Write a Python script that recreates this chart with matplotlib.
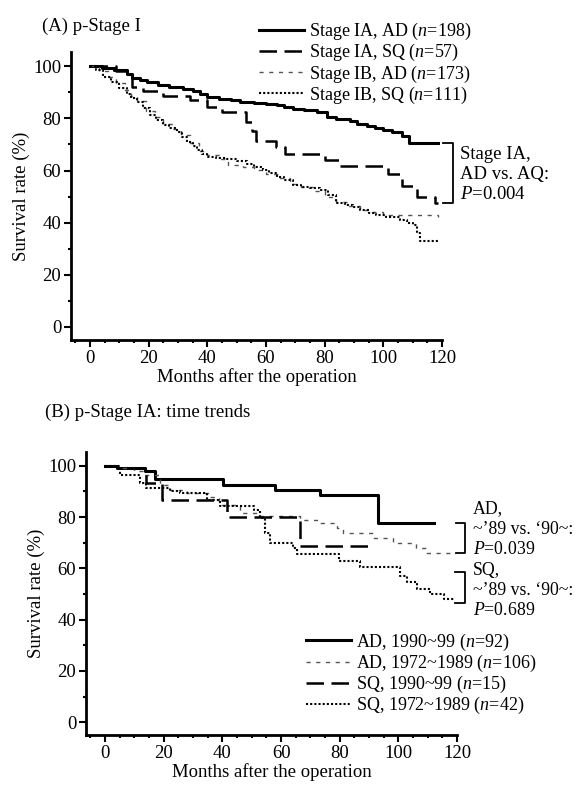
import matplotlib.pyplot as plt
from matplotlib.ticker import MultipleLocator

plt.rcParams['font.family'] = ['Liberation Serif', 'DejaVu Serif']
plt.rcParams['mathtext.fontset'] = 'custom'
plt.rcParams['mathtext.rm'] = 'Liberation Serif'
plt.rcParams['mathtext.it'] = 'Liberation Serif:italic'
plt.rcParams['font.size'] = 13

# ---- panel A: p-Stage I ----
ia_ad_t = [0, 4, 8, 12.5, 14.3, 17, 19.3, 23, 27, 31.8, 35, 37.5, 39.8, 44, 48, 51.2, 56, 60, 63.7, 66,
           69.3, 73, 77.3, 80.7, 84, 88.6, 91, 94.3, 97, 100, 103, 106.3, 108.6, 118.5]
ia_ad_s = [100, 99.5, 98.5, 97.2, 95.5, 94.6, 93.8, 93, 92, 91.2, 90.4, 89.5, 88.2, 87.6, 86.9, 86.3, 85.9,
           85.4, 85, 84.4, 83.7, 83.1, 82.4, 80.6, 79.9, 78.9, 78, 76.9, 76.2, 75.4, 74.6, 73.4, 70.6, 70.6]

ia_sq_t = [0, 9, 14.3, 18.2, 25, 34, 39.8, 45, 53, 55.2, 56.5, 63.5, 66.5, 80, 85, 101.5, 106.5, 111.5,
           117.5, 118.5]
ia_sq_s = [100, 98.2, 92.2, 90.4, 88.6, 86.9, 84.2, 82.4, 78.8, 75.3, 71.5, 69.2, 66.5, 64.2, 61.6, 58.5,
           54.1, 49.7, 47.4, 47.4]

ib_ad_t = [0, 3, 6, 9, 12, 14, 16, 19, 22, 25, 28, 31, 34, 37, 40, 44, 47, 52, 56, 60, 64, 68, 72, 76, 80,
           84, 88, 92, 96, 100, 118.5]
ib_ad_s = [100, 98, 96, 93.5, 91, 88.5, 86.5, 83, 80.5, 78, 76, 73.5, 70.5, 67.5, 65.8, 64.5, 62.3, 61.5,
           60.2, 58.5, 57, 55, 53.5, 52, 50, 48, 46.5, 45, 44, 43, 42.3]

ib_sq_t = [0, 2, 4.4, 7, 10, 12.5, 14, 16, 18, 20.5, 22.5, 25, 27, 29.6, 31.5, 33, 35, 36.4, 38, 39.8, 43,
           46.6, 50, 53.4, 56, 59, 61, 63.7, 66, 69.3, 72, 75, 78.4, 81, 84, 87, 89.8, 92, 95, 97.6, 101,
           105.6, 108, 110, 111.5, 112.5, 118.5]
ib_sq_s = [100, 98.5, 96, 94, 91.5, 89.5, 88, 86.3, 84, 81.2, 79.5, 77.4, 76.3, 74.8, 73, 71, 69.5, 67.8,
           66.5, 65.3, 65, 64.6, 63.6, 62.7, 61.5, 60.2, 59, 57.6, 56.2, 54.4, 53.8, 53.2, 52.5, 50.5, 47.4,
           46.8, 46.1, 45, 43.8, 42.9, 42, 41, 40, 39, 36, 32.8, 32.8]

labels_a = ['Stage IA, AD ($n$=198)', 'Stage IA, SQ ($n$=57)',
            'Stage IB, AD ($n$=173)', 'Stage IB, SQ ($n$=111)']

# ---- panel B: p-Stage IA time trends ----
ad90_t = [0, 4, 13.6, 17, 40.3, 58, 73.3, 93.2, 112]
ad90_s = [100, 99, 97.8, 94.8, 92.6, 90.6, 88.7, 77.6, 77.6]

ad72_t = [0, 5, 10, 13, 18.8, 22, 28, 35, 39, 46, 52, 66.5, 73.3, 79, 81, 91.5, 98.3, 106, 109.5, 118.8]
ad72_s = [100, 99, 98, 96.5, 92.6, 90.5, 89.5, 88, 84.9, 81.6, 80.3, 79, 77.6, 75.6, 73.7, 71.8, 69.8,
          67.9, 65.9, 65.9]

sq90_t = [0, 4, 14, 19.3, 41.5, 66.5, 91]
sq90_s = [100, 99, 93.3, 86.7, 80, 68.6, 68.6]

sq72_t = [0, 5, 11.9, 14, 22, 25.6, 34.7, 39.2, 50.6, 52.8, 54.6, 56.3, 64.2, 65.4, 79.6, 86.9, 100.6,
          102.9, 106.3, 110.9, 115.5, 118.8]
sq72_s = [100, 96.5, 93.2, 91.3, 90, 89.4, 86.8, 84.2, 82.9, 79.7, 73.9, 70, 68.1, 65.5, 63, 60.4, 57.2,
          54.7, 52, 50.1, 48.2, 48.2]

labels_b = ['AD, 1990~99 ($n$=92)', 'AD, 1972~1989 ($n$=106)',
            'SQ, 1990~99 ($n$=15)', 'SQ, 1972~1989 ($n$=42)']

solid = dict(color='black', lw=2.2, linestyle='-')
longdash = dict(color='black', lw=1.8, dashes=(7, 3))
shortdash = dict(color='#555555', lw=1.0, dashes=(3, 4))
dotted = dict(color='black', lw=1.5, dashes=(1, 1))


def style_axes(ax):
    for sp in ['top', 'right']:
        ax.spines[sp].set_visible(False)
    for sp in ['left', 'bottom']:
        ax.spines[sp].set_linewidth(2)
    ax.set_xlim(-6.5, 120)
    ax.set_ylim(-5, 105.5)
    ax.xaxis.set_major_locator(MultipleLocator(20))
    ax.xaxis.set_minor_locator(MultipleLocator(5))
    ax.yaxis.set_major_locator(MultipleLocator(20))
    ax.yaxis.set_minor_locator(MultipleLocator(10))
    ax.tick_params(which='major', length=5, width=1.5, labelsize=13.5, pad=2)
    ax.tick_params(which='minor', length=2.5, width=1.5)
    ax.set_xlabel('Months after the operation', fontsize=13.5, labelpad=1)
    ax.set_ylabel('Survival rate (%)', fontsize=13.5, labelpad=2)


def bracket(ax, x, y1, y2, w):
    ax.plot([x - w, x, x, x - w], [y1, y1, y2, y2], color='black', lw=1.3, clip_on=False)


fig = plt.figure(figsize=(5.78, 7.87), dpi=100)

# panel A
ax1 = fig.add_axes([0.1228, 0.568, 0.642, 0.366])
h1 = ax1.step(ia_ad_t, ia_ad_s, where='post', **solid)[0]
h2 = ax1.step(ia_sq_t, ia_sq_s, where='post', **longdash)[0]
h3 = ax1.step(ib_ad_t, ib_ad_s, where='post', **shortdash)[0]
h4 = ax1.step(ib_sq_t, ib_sq_s, where='post', **dotted)[0]
style_axes(ax1)
fig.text(0.073, 0.967, '(A) p-Stage I', fontsize=13.5, va='center')
fig.legend([h1, h2, h3, h4], labels_a, loc='upper left', bbox_to_anchor=(0.448, 0.973),
           frameon=False, fontsize=13, handlelength=2.5, handletextpad=0.3,
           labelspacing=0.0, borderaxespad=0, borderpad=0)
bracket(ax1, 123.7, ia_ad_s[-1], ia_sq_s[-1], 3.3)
ax1.text(126, 69.5, 'Stage IA,\nAD vs. AQ:\n$P$=0.004', fontsize=13.5, va='top',
         linespacing=1.25, clip_on=False)

# panel B
ax2 = fig.add_axes([0.1488, 0.066, 0.642, 0.36])
g1 = ax2.step(ad90_t, ad90_s, where='post', **solid)[0]
g2 = ax2.step(ad72_t, ad72_s, where='post', **shortdash)[0]
g3 = ax2.step(sq90_t, sq90_s, where='post', **longdash)[0]
g4 = ax2.step(sq72_t, sq72_s, where='post', **dotted)[0]
style_axes(ax2)
fig.text(0.078, 0.476, '(B) p-Stage IA: time trends', fontsize=13.5, va='center')
bracket(ax2, 122.7, ad90_s[-1], ad72_s[-1], 3.0)
ax2.text(125.3, 86.5, "AD,\n~\u201989 vs. \u201890~:\n$P$=0.039", fontsize=12.8, va='top',
         linespacing=1.25, clip_on=False)
bracket(ax2, 122.7, 58.6, sq72_s[-1] - 1.5, 3.5)
ax2.text(125.3, 62.5, "SQ,\n~\u201989 vs. \u201890~:\n$P$=0.689", fontsize=12.8, va='top',
         linespacing=1.25, clip_on=False)
ax2.legend([g1, g2, g3, g4], labels_b, loc='upper left', bbox_to_anchor=(0.592, 0.365),
           bbox_transform=ax2.transAxes, frameon=False, fontsize=13, handlelength=2.5,
           handletextpad=0.3, labelspacing=0.0, borderaxespad=0, borderpad=0)

fig.savefig('out.png', dpi=100)
